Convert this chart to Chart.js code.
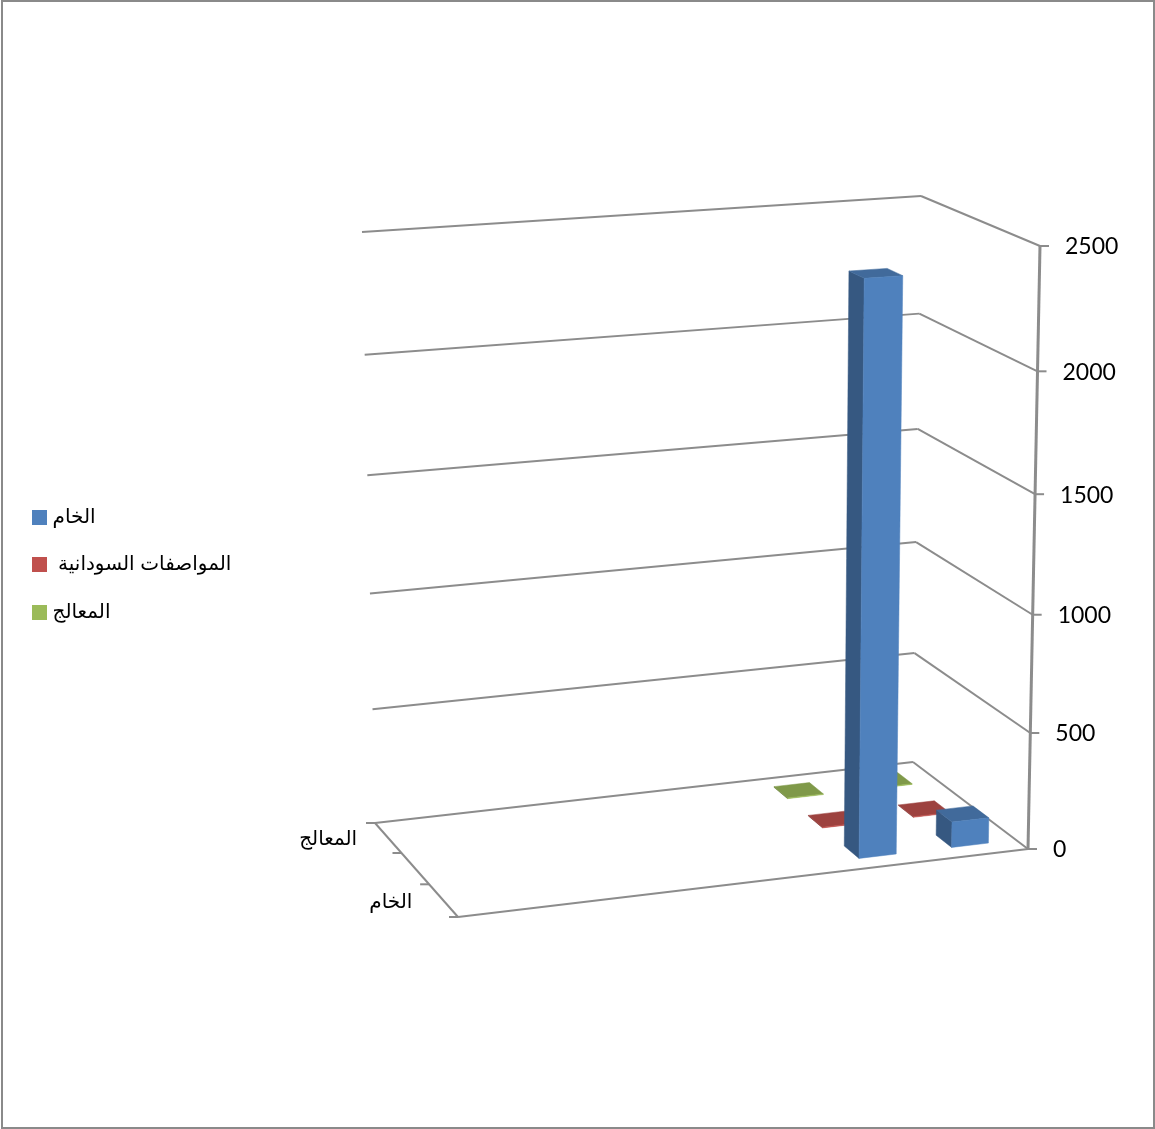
<!DOCTYPE html>
<html>
<head>
<meta charset="utf-8">
<style>
html,body{margin:0;padding:0;background:#fff}
canvas{display:block}
</style>
<script src="https://cdn.jsdelivr.net/npm/chart.js@4/dist/chart.umd.js"></script>
</head>
<body>
<canvas id="c" width="1155" height="1129"></canvas>
<script>
// Chart data
const categories = ['', '', '', '', '', ''];
const seriesNames = ['الخام', ' المواصفات السودانية', 'المعالج'];
const rawValues = [110, 2395];
const sudaneseSpecValues = [3, 3];
const processedValues = [3, 3];
const depthLabels = ['الخام', '', 'المعالج'];
const valueTicks = { min: 0, max: 2500, step: 500 };
const seriesColors = ['#4F81BD', '#C0504D', '#9BBB59'];

// Corners of the plot box on the canvas: front-right, front-left, back-right, back-left
const FLOOR = [[1028, 849], [458, 917], [913, 762], [375, 823]];
const CEILING = [[1040, 246], [448, 286], [921, 196], [362, 232]];
const HEIGHT_PERSPECTIVE = 0.953;
const BAR_RATIO = 0.4;
const AXIS_COLOR = '#8c8c8c';

// Four-corner plane mapping; the weights come from Cramer's rule
function makePlane([o, u, w, e]) {
  const det = m => m[0][0] * (m[1][1] * m[2][2] - m[1][2] * m[2][1])
    - m[1][0] * (m[0][1] * m[2][2] - m[0][2] * m[2][1])
    + m[2][0] * (m[0][1] * m[1][2] - m[0][2] * m[1][1]);
  const hom = p => [p[0], p[1], 1];
  const rhs = hom(o);
  const cols = [hom(u), hom(w), hom(e).map(n => -n)];
  const D = det(cols);
  const sub = k => det(cols.map((c, i) => (i === k ? rhs : c)));
  const a = sub(0) / D, b = sub(1) / D;
  return (s, t) => {
    const h = i => rhs[i] + s * (a * hom(u)[i] - rhs[i]) + t * (b * hom(w)[i] - rhs[i]);
    return [h(0) / h(2), h(1) / h(2)];
  };
}
const floorPlane = makePlane(FLOOR);
const ceilingPlane = makePlane(CEILING);

// Unit box coordinates to canvas position
function project(u, v, w) {
  const lo = floorPlane(u, w), hi = ceilingPlane(u, w);
  const t = HEIGHT_PERSPECTIVE * v / (1 + (HEIGHT_PERSPECTIVE - 1) * v);
  return [lo[0] + t * (hi[0] - lo[0]), lo[1] + t * (hi[1] - lo[1])];
}

const unitX = (s, px) => (s.right - px) / (s.right - s.left);
const unitY = (s, px) => (s.bottom - px) / (s.bottom - s.top);
const unitZ = (s, px) => (px - s.left) / (s.right - s.left);

function shade(hex, f) {
  const n = parseInt(hex.slice(1), 16);
  const c = [n >> 16 & 255, n >> 8 & 255, n & 255].map(x => Math.round(x * f));
  return `rgb(${c[0]},${c[1]},${c[2]})`;
}

function fillQuad(ctx, pts, color) {
  ctx.beginPath();
  pts.forEach((p, i) => (i ? ctx.lineTo(p[0], p[1]) : ctx.moveTo(p[0], p[1])));
  ctx.closePath();
  ctx.fillStyle = color;
  ctx.fill();
  ctx.strokeStyle = color;
  ctx.lineWidth = 0.5;
  ctx.stroke();
}

// Bar controller that renders each bar as a projected box
class Bar3DController extends Chart.BarController {
  draw() {
    const meta = this._cachedMeta;
    const ctx = this._ctx;
    const xs = meta.xScale, ys = meta.yScale;
    const depth = this.chart.scales.depth;
    const zc = unitZ(depth, depth.getPixelForValue(this.index));
    const zh = BAR_RATIO / 2 / depthLabels.length;
    meta.data.forEach(el => {
      const u0 = unitX(xs, el.x + el.width / 2), u1 = unitX(xs, el.x - el.width / 2);
      const v0 = unitY(ys, el.base), v1 = unitY(ys, el.y);
      const z0 = zc - zh, z1 = zc + zh;
      const color = el.options.backgroundColor;
      fillQuad(ctx, [project(u1, v0, z0), project(u1, v0, z1), project(u1, v1, z1), project(u1, v1, z0)], shade(color, 0.68));
      fillQuad(ctx, [project(u0, v1, z0), project(u1, v1, z0), project(u1, v1, z1), project(u0, v1, z1)], shade(color, 0.82));
      fillQuad(ctx, [project(u0, v0, z0), project(u1, v0, z0), project(u1, v1, z0), project(u0, v1, z0)], color);
    });
  }
}
Bar3DController.id = 'bar3d';
Bar3DController.defaults = Chart.BarController.defaults;
Bar3DController.overrides = Chart.BarController.overrides;
Chart.register(Bar3DController);

function segment(ctx, a, b) {
  ctx.beginPath();
  ctx.moveTo(a[0], a[1]);
  ctx.lineTo(b[0], b[1]);
  ctx.stroke();
}

// Box walls, floor, ticks and axis labels, all placed through the scales
const boxAxes = {
  id: 'boxAxes',
  beforeDatasetsDraw(chart) {
    const ctx = chart.ctx;
    const ys = chart.scales.y, depth = chart.scales.depth;
    ctx.save();
    // Outer frame
    ctx.strokeStyle = '#8a8a8a';
    ctx.lineWidth = 2;
    ctx.strokeRect(2, 1, chart.width - 3, chart.height - 2);

    ctx.strokeStyle = AXIS_COLOR;
    ctx.lineWidth = 2;
    // Value gridlines across the side and back walls
    ys.ticks.forEach(t => {
      const v = unitY(ys, ys.getPixelForValue(t.value));
      const front = project(0, v, 0), back = project(0, v, 1), left = project(1, v, 1);
      segment(ctx, front, back);
      segment(ctx, back, left);
      segment(ctx, front, [front[0] + 9, front[1]]);
      ctx.font = '23px Lato';
      ctx.fillStyle = '#000';
      ctx.textAlign = 'left';
      ctx.textBaseline = 'middle';
      ctx.fillText(String(t.value), front[0] + 25, front[1] + 1);
    });
    // Floor edges and the vertical axis
    segment(ctx, project(0, 0, 0), project(1, 0, 0));
    segment(ctx, project(1, 0, 0), project(1, 0, 1));
    ctx.lineWidth = 3;
    segment(ctx, project(0, 0, 0), project(0, 1, 0));
    ctx.lineWidth = 2;
    // Depth axis ticks and labels
    const n = depthLabels.length;
    for (let i = 0; i <= n; i++) {
      const p = project(1, 0, i / n);
      segment(ctx, p, [p[0] - 9, p[1]]);
    }
    depthLabels.forEach((label, i) => {
      const z = unitZ(depth, depth.getPixelForValue(i));
      const p = project(1, 0, z);
      ctx.font = '20px "Liberation Sans","DejaVu Sans"';
      ctx.fillStyle = '#000';
      ctx.textAlign = 'right';
      ctx.textBaseline = 'middle';
      ctx.fillText(label, p[0] - 31, p[1] + 2);
    });
    ctx.restore();
  }
};

// Legend swatches sit close to their text, so they are image point styles
function swatch(color) {
  const c = document.createElement('canvas');
  c.width = 15;
  c.height = 15;
  const g = c.getContext('2d');
  g.fillStyle = color;
  g.fillRect(0, 0, 15, 15);
  return c;
}

new Chart(document.getElementById('c'), {
  type: 'bar3d',
  plugins: [boxAxes],
  data: {
    labels: categories,
    datasets: [
      { label: seriesNames[0], data: rawValues, backgroundColor: seriesColors[0] },
      { label: seriesNames[1], data: sudaneseSpecValues, backgroundColor: seriesColors[1] },
      { label: seriesNames[2], data: processedValues, backgroundColor: seriesColors[2] }
    ]
  },
  options: {
    responsive: false,
    animation: false,
    grouped: false,
    barPercentage: BAR_RATIO,
    categoryPercentage: 1,
    layout: { padding: { left: 8 } },
    plugins: {
      tooltip: { enabled: false },
      title: { display: false },
      legend: {
        position: 'left',
        align: 'center',
        labels: {
          usePointStyle: true,
          pointStyleWidth: 7,
          boxHeight: 15,
          padding: 27.5,
          color: '#000',
          font: { family: '"Liberation Sans","DejaVu Sans"', size: 20 },
          generateLabels: chart => Chart.defaults.plugins.legend.labels.generateLabels(chart)
            .map((item, i) => ({ ...item, pointStyle: swatch(seriesColors[i]) }))
        }
      }
    },
    scales: {
      x: { type: 'category', reverse: true, offset: true, display: false },
      y: { type: 'linear', min: valueTicks.min, max: valueTicks.max, ticks: { stepSize: valueTicks.step }, display: false },
      depth: { type: 'category', axis: 'x', labels: depthLabels, offset: true, display: false }
    }
  }
});
</script>
</body>
</html>
